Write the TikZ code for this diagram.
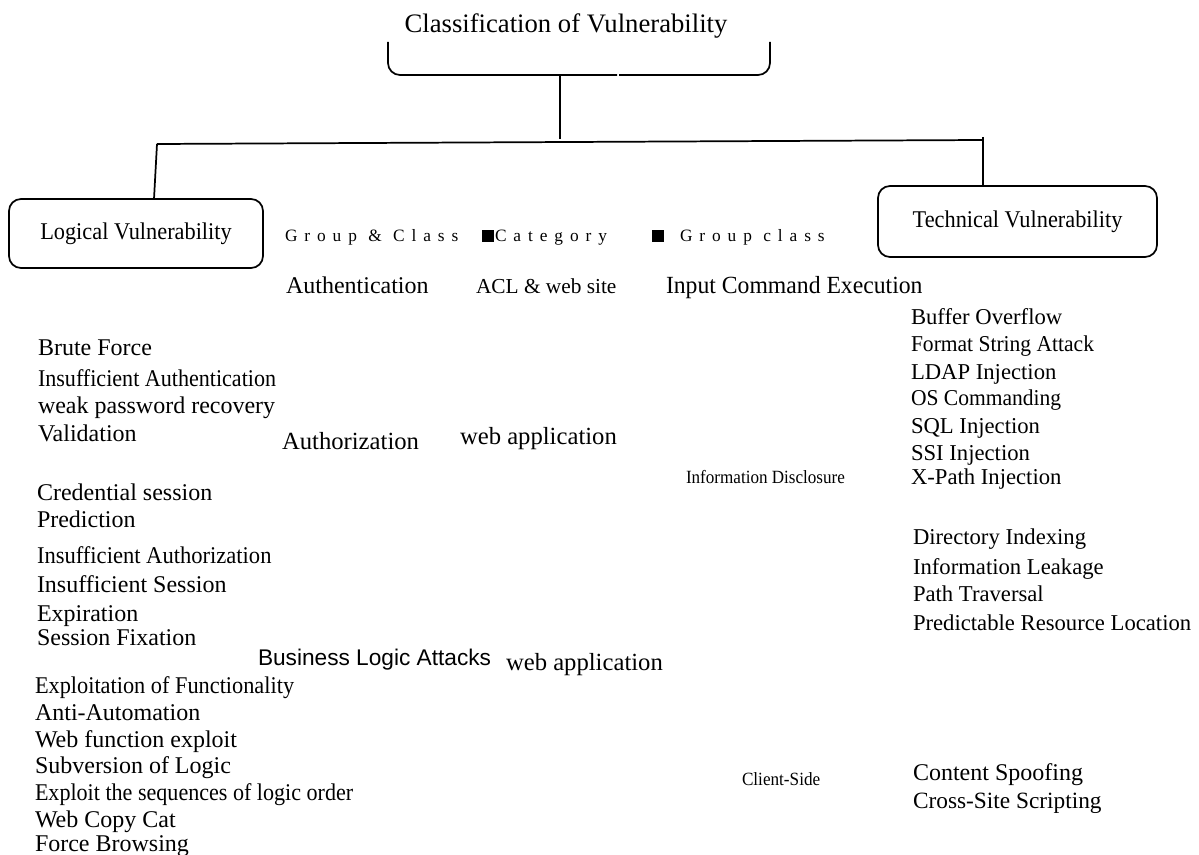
\documentclass[tikz,border=0pt]{standalone}
\usepackage{fontspec}
\setmainfont{Liberation Serif}
\newfontfamily\sansf{Liberation Sans}
\newfontfamily\spacedf[LetterSpace=40]{Liberation Serif}
\begin{document}
\begin{tikzpicture}[x=0.75pt,y=-0.75pt,
  txt/.style={anchor=base west,inner sep=0pt,outer sep=0pt},
  vbox/.style={draw,line width=1.3pt,rounded corners=9pt,inner sep=0pt},
  conn/.style={line width=1.3pt},
  fs/.style={font=\fontsize{#1}{#1}\selectfont}]
\useasboundingbox (0,0) rectangle (1199,855);
% title and bracket
\node[txt,anchor=base,fs=20pt] (title) at (566,33) {Classification of Vulnerability};
\coordinate (bl) at (388,42);
\coordinate (blc) at (388,75);
\coordinate (bm1) at (617,75);
\coordinate (bm2) at (619,75);
\coordinate (brc) at (770,75);
\coordinate (br) at (770,42);
\coordinate (stemtop) at (560,76);
\coordinate (stembot) at (560,139);
\coordinate (hl) at (157,144);
\coordinate (hr) at (983,140);
\draw[conn,rounded corners=9pt] (bl) -- (blc) -- (bm1);
\draw[conn,rounded corners=9pt] (bm2) -- (brc) -- (br);
\draw[conn] (stemtop) -- (stembot);
\draw[conn] (hl) -- (hr);
% boxes
\node[vbox,minimum width=190.5pt,minimum height=51.75pt,fs=18pt] (logical) at (136,233.5) {\scalebox{0.93}[1]{Logical Vulnerability}\hspace{10pt}};
\node[vbox,minimum width=209.25pt,minimum height=53.25pt,fs=18pt] (technical) at (1017.5,221.5) {\raisebox{4pt}{\scalebox{0.93}[1]{Technical Vulnerability}}\hspace{13pt}};
\coordinate (ld) at (154,199);
\coordinate (rdtop) at (983,137);
\coordinate (rd) at (983,186);
\draw[conn] (hl) -- (ld);
\draw[conn] (rdtop) -- (rd);
% legend
\node[txt,fs=13pt] (leg1) at (285,242) {\spacedf Group \& Class};
\fill (482,230) rectangle (494,242);
\node[txt,fs=13pt] (leg2) at (495,242) {\spacedf Category};
\fill (652,230) rectangle (664,242);
\node[txt,fs=13pt] (leg3) at (680,242) {\spacedf Group class};
% row 2
\node[txt,fs=18pt] (authn) at (286,294) {Authentication};
\node[txt,fs=16pt] (acl) at (476,294) {ACL \& web site};
\node[txt,fs=18.5pt] (input) at (666,294) {\scalebox{0.96}[1]{Input Command Execution}};
% middle column
\node[txt,fs=18.5pt] (authz) at (282,449) {Authorization};
\node[txt,fs=18.5pt] (web1) at (460,444) {web application};
\node[txt,fs=17pt] (bla) at (258,665) {\sansf Business Logic Attacks};
\node[txt,fs=18.5pt] (web2) at (506,670) {web application};
\node[txt,fs=14pt] (infod) at (686,483) {\scalebox{0.915}[1]{Information Disclosure}};
\node[txt,fs=14pt] (client) at (742,785) {\scalebox{0.92}[1]{Client-Side}};
% left lists
\node[txt,fs=18pt] (l1) at (38,356) {Brute Force};
\node[txt,fs=18pt] (l2) at (38,387) {\scalebox{0.92}[1]{Insufficient Authentication}};
\node[txt,fs=18pt] (l3) at (38,413) {weak password recovery};
\node[txt,fs=18pt] (l4) at (38,441) {Validation};
\node[txt,fs=18pt] (l5) at (37,500) {Credential session};
\node[txt,fs=18pt] (l6) at (37,527) {Prediction};
\node[txt,fs=18pt] (l7) at (37,563) {\scalebox{0.94}[1]{Insufficient Authorization}};
\node[txt,fs=18pt] (l8) at (37,592) {Insufficient Session};
\node[txt,fs=18pt] (l9) at (37,621) {Expiration};
\node[txt,fs=18pt] (l10) at (37,645) {Session Fixation};
\node[txt,fs=18pt] (b1) at (35,693) {\scalebox{0.93}[1]{Exploitation of Functionality}};
\node[txt,fs=18pt] (b2) at (35,720) {Anti-Automation};
\node[txt,fs=18pt] (b3) at (35,747) {Web function exploit};
\node[txt,fs=18pt] (b4) at (35,773) {Subversion of Logic};
\node[txt,fs=18pt] (b5) at (35,800) {\scalebox{0.92}[1]{Exploit the sequences of logic order}};
\node[txt,fs=18pt] (b6) at (35,827) {Web Copy Cat};
\node[txt,fs=18pt] (b7) at (35,851) {Force Browsing};
% right lists
\node[txt,fs=17pt] (r1) at (911,325) {Buffer Overflow};
\node[txt,fs=17pt] (r2) at (911,352) {\scalebox{0.95}[1]{Format String Attack}};
\node[txt,fs=17pt] (r3) at (911,379) {LDAP Injection};
\node[txt,fs=17pt] (r4) at (911,406) {\scalebox{0.95}[1]{OS Commanding}};
\node[txt,fs=17pt] (r5) at (911,433) {SQL Injection};
\node[txt,fs=17pt] (r6) at (911,460) {SSI Injection};
\node[txt,fs=17pt] (r7) at (911,484) {X-Path Injection};
\node[txt,fs=17pt] (r8) at (913,544) {Directory Indexing};
\node[txt,fs=17pt] (r9) at (913,574) {Information Leakage};
\node[txt,fs=17pt] (r10) at (913,601) {Path Traversal};
\node[txt,fs=17pt] (r11) at (913,630) {Predictable Resource Location};
\node[txt,fs=18pt] (r12) at (913,780) {Content Spoofing};
\node[txt,fs=17.5pt] (r13) at (913,808) {Cross-Site Scripting};
\end{tikzpicture}
\end{document}
